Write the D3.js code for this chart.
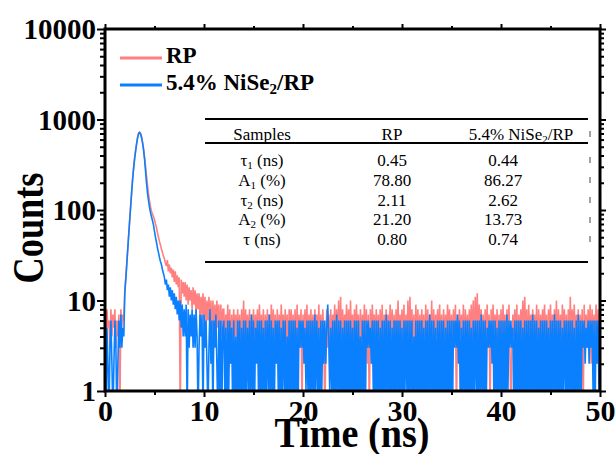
<!DOCTYPE html>
<html>
<head>
<meta charset="utf-8">
<script src="https://cdn.jsdelivr.net/npm/d3@7"></script>
<style>
  body { margin: 0; background: #fff; }
  svg { display: block; font-family: "Liberation Serif", "Times New Roman", serif; }
</style>
</head>
<body>
<div id="svg-container"></div>
<script>
////////////////////////////////////////////////////////////////////
////////////////////////////  Data  ////////////////////////////////
// TRPL decay, one value per 0.1 ns channel (0 - 50 ns)
const tStep = 0.1;

const countsRP = [
  7,4,8,5,6,3,8,4,7,5,8,3,6,4,7,0,8,5,7,6,
  13,18,26,38,55,80,115,165,230,300,380,460,550,640,705,725,700,640,560,470,
  380,300,235,185,150,125,108,97,90,84,78,70,64,56,50,45,41,37,34,31,
  29,26,24,28,21,25,20,23,18,22,16,21,15,19,14,18,0,17,12,16,
  11,16,10,15,9,14,10,13,8,14,9,13,7,12,8,12,6,11,7,12,
  6,11,5,10,6,11,5,10,4,10,5,9,4,10,5,9,3,9,4,8,
  8,3,7,4,9,3,8,2,7,3,8,4,7,3,8,3,7,2,8,3,
  10,3,8,4,7,3,8,3,7,2,8,3,7,4,8,3,9,3,7,3,
  8,2,7,3,8,4,7,3,9,3,8,3,7,2,8,3,7,3,9,4,
  7,3,8,3,7,2,8,4,8,3,7,3,8,2,9,3,7,3,8,0,
  7,3,8,3,9,2,7,4,8,3,7,3,8,2,7,3,9,3,7,3,
  8,4,0,3,8,3,7,2,8,3,7,4,9,3,8,3,10,2,11,3,
  8,3,7,4,9,3,8,2,10,3,7,3,8,3,9,4,7,2,8,3,
  7,3,9,3,8,2,7,0,8,3,9,4,7,3,8,2,7,3,8,3,
  9,2,7,3,8,4,7,3,9,3,8,3,7,2,8,3,10,3,7,4,
  8,3,9,2,7,3,10,3,11,4,8,3,7,2,9,3,8,3,7,3,
  8,4,7,2,9,3,8,3,7,3,10,2,8,3,7,4,8,3,9,3,
  7,2,8,3,7,3,9,4,8,3,7,2,8,3,9,0,7,3,8,4,
  7,3,9,2,8,3,7,3,8,4,9,3,10,2,11,3,12,3,9,4,
  8,3,7,2,8,3,9,3,7,0,8,4,9,3,7,3,8,2,7,3,
  8,3,9,4,7,3,8,2,9,3,0,3,7,4,8,3,9,2,7,3,
  8,3,10,4,11,3,8,2,9,3,7,3,8,4,7,3,9,2,8,3,
  7,3,8,4,9,3,7,2,8,3,9,3,7,4,8,3,10,2,8,3,
  7,3,9,4,8,3,7,2,8,3,11,3,8,4,9,3,7,2,8,3,
  7,3,8,0,9,3,7,3,8,3,9,2,8,3,7,3,9,3,8,3,9
];

const countsNiSe2 = [
  6,0,5,2,0,3,6,2,0,2,6,3,0,2,6,3,7,3,5,4,
  12,17,25,37,54,78,112,160,225,295,375,455,545,635,700,715,690,625,545,455,
  360,265,195,152,126,106,93,84,76,68,58,50,44,38,34,30,27,25,22,20,
  18,15,17,13,15,11,14,10,13,9,12,8,11,7,10,6,10,5,9,4,
  8,4,9,0,8,3,7,4,8,3,7,3,8,4,0,3,7,4,7,0,
  7,3,6,2,0,3,8,2,6,0,6,3,7,2,0,6,1,6,0,5,
  6,1,5,0,6,1,6,2,5,0,6,1,4,0,6,1,6,0,5,1,
  6,0,6,1,5,1,6,0,7,1,6,0,5,2,6,1,6,0,6,1,
  5,0,6,1,6,1,7,0,6,1,5,0,6,2,6,1,6,0,5,1,
  6,1,6,0,4,1,6,0,6,1,6,0,6,1,5,0,6,3,6,3,
  6,2,5,1,6,1,6,0,6,1,6,0,7,1,6,1,5,0,6,1,
  6,2,6,2,5,9,4,1,5,1,6,0,6,1,7,0,6,1,6,0,
  5,1,6,0,6,1,6,0,6,1,5,0,6,1,6,0,6,1,4,0,
  6,1,6,0,6,3,6,3,5,2,6,1,6,0,6,1,6,0,5,1,
  6,0,6,1,7,0,6,1,6,0,5,1,6,0,6,1,6,0,6,1,
  5,0,6,1,6,1,6,0,6,1,6,0,4,1,6,0,6,1,6,0,
  6,1,5,0,6,1,6,0,7,1,6,0,6,1,5,0,6,1,6,0,
  6,1,6,0,5,1,6,0,6,1,6,0,6,3,6,3,7,2,6,0,
  5,1,6,0,6,1,6,0,6,1,5,0,6,1,6,1,6,0,6,1,
  7,0,6,1,6,0,5,3,6,3,6,2,6,0,6,1,5,0,6,1,
  6,0,6,1,6,0,7,1,6,3,6,3,5,0,6,1,6,0,6,1,
  6,0,5,1,6,0,6,1,6,0,6,1,7,0,6,1,6,0,5,1,
  6,0,6,1,6,0,6,1,5,0,6,1,6,0,7,1,6,0,6,1,
  6,0,5,1,6,1,6,0,6,1,6,0,6,1,5,0,6,1,7,0,
  6,1,6,3,6,2,5,3,6,2,6,3,6,1,6,0,6,2,6,1,6
];

const seriesColors = ["#ff8080", "#0a80ff"];
const xTicks = [0, 10, 20, 30, 40, 50];
const xMinor = [5, 15, 25, 35, 45];
const yTicks = [1, 10, 100, 1000, 10000];

// fitted parameters table
const tableHead = ["Samples", "RP", "5.4% NiSe2/RP"];
const paramNames = [["τ", "1", " (ns)"], ["A", "1", " (%)"], ["τ", "2", " (ns)"], ["A", "2", " (%)"], ["τ", "", " (ns)"]];
const valuesRP = ["0.45", "78.80", "2.11", "21.20", "0.80"];
const valuesNiSe2 = ["0.44", "86.27", "2.62", "13.73", "0.74"];

////////////////////////////////////////////////////////////////////
////////////////////////////  Init  ////////////////////////////////
const width = 616, height = 454;
const margin = { top: 29, right: 16, bottom: 63, left: 105 };

const svg = d3.select("#svg-container").append("svg")
  .attr("width", width).attr("height", height);

const xScale = d3.scaleLinear().domain([0, 50]).range([margin.left, width - margin.right]);
const yScale = d3.scaleLog().domain([1, 10000]).range([height - margin.bottom, margin.top]);

const yMinor = [];
[1, 10, 100, 1000].forEach((p) => { for (let k = 2; k <= 9; k++) yMinor.push(k * p); });

svg.append("clipPath").attr("id", "plot-clip")
  .append("rect")
  .attr("x", xScale(0)).attr("y", yScale(10000))
  .attr("width", xScale(50) - xScale(0)).attr("height", yScale(1) - yScale(10000));

// curves (zero counts drop below the axis and get clipped)
const line = d3.line()
  .x((d, i) => xScale(i * tStep))
  .y((d) => yScale(Math.max(d, 0.5)));

[countsRP, countsNiSe2].forEach((series, k) => {
  svg.append("path")
    .datum(series)
    .attr("clip-path", "url(#plot-clip)")
    .attr("d", line)
    .attr("fill", "none")
    .attr("stroke", seriesColors[k])
    .attr("stroke-width", 1.6)
    .attr("stroke-linejoin", "miter");
});

////////////////////////////////////////////////////////////////////
////////////////////////////  Axes  ////////////////////////////////
const x0 = xScale(0), x1 = xScale(50), y0 = yScale(1), y1 = yScale(10000);

function styleAxis(g) {
  g.select(".domain").remove();
  g.selectAll(".tick line").attr("stroke", "#000").attr("stroke-width", 2);
  g.selectAll("text")
    .attr("fill", "#000")
    .style("font-family", "Liberation Serif, serif")
    .style("font-weight", "bold");
}

// bottom
svg.append("g").attr("transform", `translate(0,${y0})`)
  .call(d3.axisBottom(xScale).tickValues(xTicks).tickSize(6).tickFormat(d3.format("d")))
  .call(styleAxis)
  .call((g) => g.selectAll("text").attr("y", 30).attr("dy", null).style("font-size", "30px"));
svg.append("g").attr("transform", `translate(0,${y0})`)
  .call(d3.axisBottom(xScale).tickValues(xMinor).tickSize(4).tickFormat(""))
  .call(styleAxis);

// top
svg.append("g").attr("transform", `translate(0,${y1})`)
  .call(d3.axisTop(xScale).tickValues(xTicks).tickSize(5).tickFormat(""))
  .call(styleAxis);
svg.append("g").attr("transform", `translate(0,${y1})`)
  .call(d3.axisTop(xScale).tickValues(xMinor).tickSize(3).tickFormat(""))
  .call(styleAxis);

// left
svg.append("g").attr("transform", `translate(${x0},0)`)
  .call(d3.axisLeft(yScale).tickValues(yTicks).tickSize(8).tickPadding(1).tickFormat(d3.format("d")))
  .call(styleAxis)
  .call((g) => g.selectAll("text").style("font-size", "29px").attr("dy", "0.34em"));
svg.append("g").attr("transform", `translate(${x0},0)`)
  .call(d3.axisLeft(yScale).tickValues(yMinor).tickSize(5).tickFormat(""))
  .call(styleAxis);

// right
svg.append("g").attr("transform", `translate(${x1},0)`)
  .call(d3.axisRight(yScale).tickValues(yTicks).tickSize(6).tickFormat(""))
  .call(styleAxis);
svg.append("g").attr("transform", `translate(${x1},0)`)
  .call(d3.axisRight(yScale).tickValues(yMinor).tickSize(4).tickFormat(""))
  .call(styleAxis);

// frame
svg.append("rect")
  .attr("x", x0).attr("y", y1)
  .attr("width", x1 - x0).attr("height", y0 - y1)
  .attr("fill", "none").attr("stroke", "#000").attr("stroke-width", 3);

// axis titles
svg.append("text")
  .attr("transform", "translate(43,228) rotate(-90)")
  .attr("text-anchor", "middle")
  .attr("textLength", 111).attr("lengthAdjust", "spacingAndGlyphs")
  .style("font-size", "44px").style("font-weight", "bold")
  .text("Counts");

svg.append("text")
  .attr("x", 352).attr("y", 447)
  .attr("text-anchor", "middle")
  .attr("textLength", 155).attr("lengthAdjust", "spacingAndGlyphs")
  .style("font-size", "43px").style("font-weight", "bold")
  .text("Time (ns)");

////////////////////////////////////////////////////////////////////
////////////////////////////  Legend  //////////////////////////////
const legend = svg.append("g");
[0, 1].forEach((k) => {
  const ly = 58 + k * 27;
  legend.append("line")
    .attr("x1", 120).attr("x2", 162).attr("y1", ly).attr("y2", ly)
    .attr("stroke", seriesColors[k]).attr("stroke-width", 3);
  const t = legend.append("text")
    .attr("x", 166).attr("y", ly + 5)
    .style("font-size", "23px").style("font-weight", "bold");
  if (k === 0) {
    t.text("RP");
  } else {
    t.append("tspan").text("5.4% NiSe");
    t.append("tspan").attr("dy", 4).style("font-size", "15px").text("2");
    t.append("tspan").attr("dy", -4).text("/RP");
  }
});

////////////////////////////////////////////////////////////////////
////////////////////////////  Table  ///////////////////////////////
const tbl = svg.append("g").style("font-size", "17px");
const tX0 = 205, tX1 = 588;
const colX = [262, 392, 503];

[119, 143, 262].forEach((yy) => {
  tbl.append("line")
    .attr("x1", tX0).attr("x2", tX1).attr("y1", yy).attr("y2", yy)
    .attr("stroke", "#000").attr("stroke-width", 2);
});

// header
tbl.append("text").attr("x", colX[0]).attr("y", 140).attr("text-anchor", "middle").text(tableHead[0]);
tbl.append("text").attr("x", colX[1]).attr("y", 140).attr("text-anchor", "middle").text(tableHead[1]);
const h3 = tbl.append("text").attr("x", 521).attr("y", 140).attr("text-anchor", "middle");
h3.append("tspan").text("5.4% NiSe");
h3.append("tspan").attr("dy", 3).style("font-size", "11px").text("2");
h3.append("tspan").attr("dy", -3).text("/RP");

// rows
paramNames.forEach((p, i) => {
  const ry = 166 + i * 19.75;
  const lab = tbl.append("text").attr("x", colX[0]).attr("y", ry).attr("text-anchor", "middle");
  lab.append("tspan").text(p[0]);
  if (p[1]) {
    lab.append("tspan").attr("dy", 3).style("font-size", "11px").text(p[1]);
    lab.append("tspan").attr("dy", -3).text(p[2]);
  } else {
    lab.append("tspan").text(p[2]);
  }
  tbl.append("text").attr("x", colX[1]).attr("y", ry).attr("text-anchor", "middle").text(valuesRP[i]);
  tbl.append("text").attr("x", colX[2]).attr("y", ry).attr("text-anchor", "middle").text(valuesNiSe2[i]);
});

// little marks at the right edge of the table rows
[134, 160, 180, 200, 220, 239].forEach((yy) => {
  tbl.append("line")
    .attr("x1", 590).attr("x2", 590).attr("y1", yy - 3).attr("y2", yy + 3)
    .attr("stroke", "#444").attr("stroke-width", 1);
});
</script>
</body>
</html>
